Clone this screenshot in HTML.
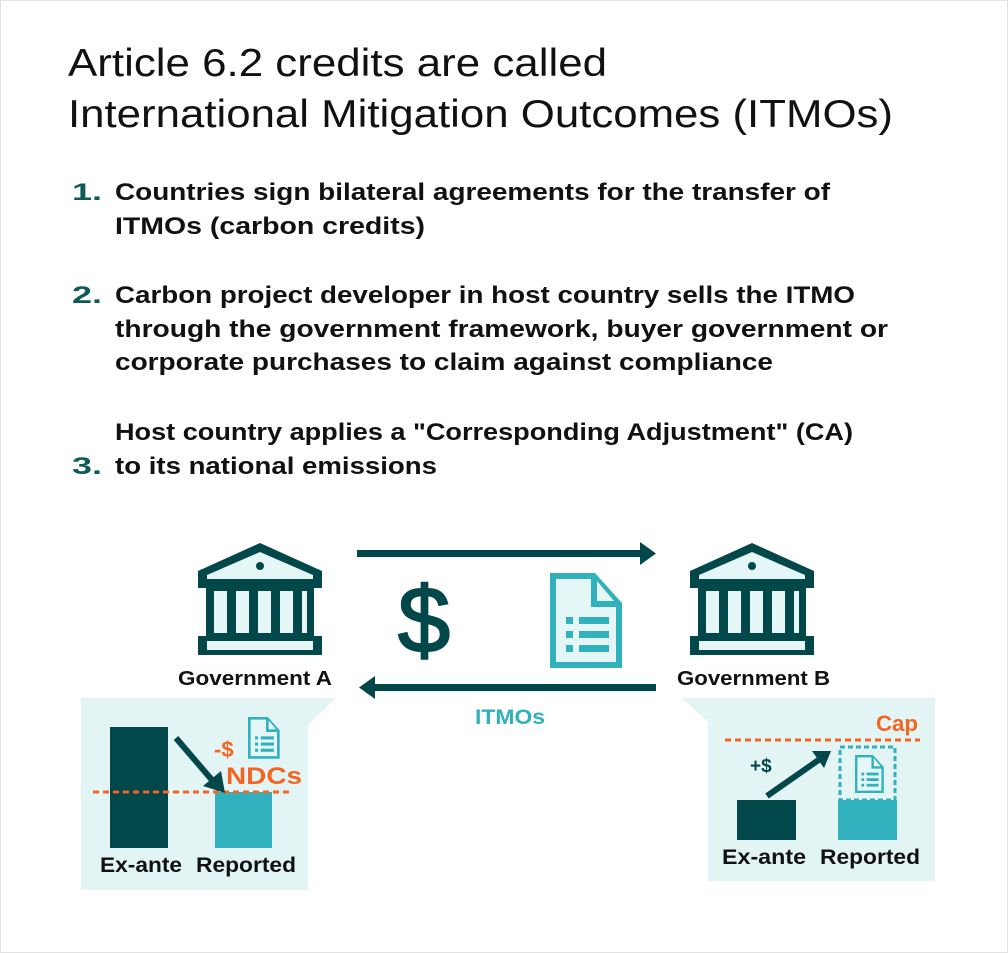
<!DOCTYPE html>
<html><head><meta charset="utf-8"><style>
html,body{margin:0;padding:0;background:#fff;}
svg{display:block;font-family:"Liberation Sans",sans-serif;}
</style></head><body>
<svg width="1008" height="953" viewBox="0 0 1008 953" xmlns="http://www.w3.org/2000/svg">
<rect x="0.5" y="0.5" width="1007" height="952" fill="#fff" stroke="#e2e2e2"/>
<g fill="#111" font-size="39">
<text x="68" y="76" textLength="539" lengthAdjust="spacingAndGlyphs">Article 6.2 credits are called</text>
<text x="68" y="127" textLength="825" lengthAdjust="spacingAndGlyphs">International Mitigation Outcomes (ITMOs)</text>
</g>
<g font-size="24" font-weight="bold" fill="#111">
<text x="72" y="200" fill="#0e5a56" textLength="30" lengthAdjust="spacingAndGlyphs">1.</text>
<text x="115" y="200" textLength="715" lengthAdjust="spacingAndGlyphs">Countries sign bilateral agreements for the transfer of</text>
<text x="115" y="234" textLength="310" lengthAdjust="spacingAndGlyphs">ITMOs (carbon credits)</text>
<text x="72" y="303" fill="#0e5a56" textLength="30" lengthAdjust="spacingAndGlyphs">2.</text>
<text x="115" y="303" textLength="740" lengthAdjust="spacingAndGlyphs">Carbon project developer in host country sells the ITMO</text>
<text x="115" y="337" textLength="773" lengthAdjust="spacingAndGlyphs">through the government framework, buyer government or</text>
<text x="115" y="370" textLength="658" lengthAdjust="spacingAndGlyphs">corporate purchases to claim against compliance</text>
<text x="115" y="440" textLength="738" lengthAdjust="spacingAndGlyphs">Host country applies a "Corresponding Adjustment" (CA)</text>
<text x="72" y="474" fill="#0e5a56" textLength="30" lengthAdjust="spacingAndGlyphs">3.</text>
<text x="115" y="474" textLength="322" lengthAdjust="spacingAndGlyphs">to its national emissions</text>
</g>

<defs>
<g id="bank">
<polygon points="62,0 124,28 124,42 0,42 0,28" fill="#02474a"/>
<polygon points="62,9 115,32 115,36 9,36 9,32" fill="#e5f6f6"/>
<circle cx="62" cy="23" r="4" fill="#02474a"/>
<rect x="0" y="42" width="124" height="3" fill="#02474a"/>
<rect x="8" y="45" width="108" height="48" fill="#02474a"/>
<rect x="16" y="48" width="13" height="42" fill="#e5f6f6"/>
<rect x="38" y="48" width="13" height="42" fill="#e5f6f6"/>
<rect x="60" y="48" width="13" height="42" fill="#e5f6f6"/>
<rect x="82" y="48" width="13" height="42" fill="#e5f6f6"/>
<rect x="104" y="48" width="5" height="42" fill="#e5f6f6"/>
<rect x="0" y="93" width="124" height="19" fill="#02474a"/>
<rect x="9" y="98" width="106" height="9" fill="#e5f6f6"/>
</g>
<g id="doc">
<path d="M0,0 H45 L72,30 V95 H0 Z" fill="#30b1bd"/>
<path d="M6,6 H41 V34 H66 V89 H6 Z" fill="#e5f6f6"/>
<path d="M47,8 L64,28 H47 Z" fill="#e5f6f6"/>
<rect x="16" y="44" width="7" height="7" fill="#30b1bd"/><rect x="29" y="44" width="30" height="7" fill="#30b1bd"/>
<rect x="16" y="58" width="7" height="7" fill="#30b1bd"/><rect x="29" y="58" width="30" height="7" fill="#30b1bd"/>
<rect x="16" y="72" width="7" height="7" fill="#30b1bd"/><rect x="29" y="72" width="30" height="7" fill="#30b1bd"/>
</g>
</defs>

<use href="#bank" x="198" y="543"/>
<use href="#bank" x="690" y="543"/>
<g font-size="20" font-weight="bold" fill="#111">
<text x="178" y="685" textLength="154" lengthAdjust="spacingAndGlyphs">Government A</text>
<text x="677" y="685" textLength="153" lengthAdjust="spacingAndGlyphs">Government B</text>
</g>

<rect x="357" y="550" width="286" height="7" fill="#02474a"/>
<polygon points="640,542 656,553.5 640,565" fill="#02474a"/>
<rect x="372" y="684" width="284" height="7" fill="#02474a"/>
<polygon points="375,676 359,687.5 375,699" fill="#02474a"/>
<text x="424" y="652" font-size="94" fill="#02474a" text-anchor="middle" stroke="#02474a" stroke-width="2">$</text>
<use href="#doc" x="550" y="573"/>
<text x="475" y="724" font-size="21" font-weight="bold" fill="#30b1bd" textLength="70" lengthAdjust="spacingAndGlyphs">ITMOs</text>

<polygon points="81,698 336,698 308,725 308,890 81,890" fill="#e3f4f4"/>
<rect x="110" y="727" width="58" height="121" fill="#02474a"/>
<rect x="215" y="792" width="57" height="56" fill="#30b1bd"/>
<line x1="93" y1="792" x2="290" y2="792" stroke="#f26522" stroke-width="3" stroke-dasharray="6,4"/>
<line x1="176" y1="738" x2="212" y2="780" stroke="#02474a" stroke-width="6"/>
<polygon points="203,786 225,793 221,771" fill="#02474a"/>
<text x="214" y="757" font-size="22" font-weight="bold" fill="#f26522">-$</text>
<g transform="translate(248,717) scale(0.44)"><use href="#doc"/></g>
<text x="226" y="784" font-size="24" font-weight="bold" fill="#f26522" textLength="76" lengthAdjust="spacingAndGlyphs">NDCs</text>
<g font-size="21" font-weight="bold" fill="#111">
<text x="100" y="872" textLength="82" lengthAdjust="spacingAndGlyphs">Ex-ante</text>
<text x="196" y="872" textLength="100" lengthAdjust="spacingAndGlyphs">Reported</text>
</g>

<polygon points="682,698 935,698 935,881 708,881 708,722" fill="#e3f4f4"/>
<text x="876" y="731" font-size="22" font-weight="bold" fill="#f26522" textLength="42" lengthAdjust="spacingAndGlyphs">Cap</text>
<line x1="725" y1="740" x2="920" y2="740" stroke="#f26522" stroke-width="3" stroke-dasharray="6,4"/>
<rect x="737" y="800" width="59" height="40" fill="#02474a"/>
<rect x="838" y="800" width="59" height="40" fill="#30b1bd"/>
<rect x="840" y="747" width="55" height="53" fill="none" stroke="#30b1bd" stroke-width="3" stroke-dasharray="5,3"/>
<g transform="translate(855,755) scale(0.4)"><use href="#doc"/></g>
<line x1="767" y1="796" x2="820" y2="759" stroke="#02474a" stroke-width="6"/>
<polygon points="812,751 831,751 824,768" fill="#02474a"/>
<text x="750" y="772" font-size="19" font-weight="bold" fill="#02474a">+$</text>
<g font-size="21" font-weight="bold" fill="#111">
<text x="722" y="864" textLength="84" lengthAdjust="spacingAndGlyphs">Ex-ante</text>
<text x="820" y="864" textLength="100" lengthAdjust="spacingAndGlyphs">Reported</text>
</g>
</svg>
</body></html>
